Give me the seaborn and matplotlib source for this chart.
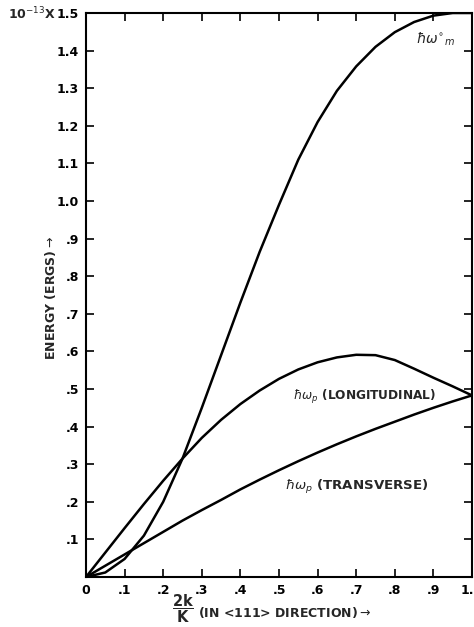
import numpy as np
import pandas as pd
import matplotlib
matplotlib.use("Agg")
import matplotlib.pyplot as plt
import seaborn as sns

# ---- data ----
k_ratio = [0.0, 0.05, 0.1, 0.15, 0.2, 0.25, 0.3, 0.35, 0.4, 0.45, 0.5,
           0.55, 0.6, 0.65, 0.7, 0.75, 0.8, 0.85, 0.9, 0.95, 1.0]
e_max = [0.0, 0.012, 0.048, 0.11, 0.20, 0.315, 0.45, 0.59, 0.73, 0.865, 0.99,
         1.11, 1.21, 1.293, 1.358, 1.41, 1.449, 1.476, 1.493, 1.5, 1.5]
e_long = [0.0, 0.065, 0.13, 0.194, 0.256, 0.315, 0.37, 0.418, 0.46, 0.496, 0.527,
          0.552, 0.571, 0.584, 0.591, 0.59, 0.577, 0.554, 0.53, 0.507, 0.483]
e_trans = [0.0, 0.03, 0.06, 0.09, 0.12, 0.15, 0.178, 0.205, 0.233, 0.259, 0.284,
           0.308, 0.331, 0.353, 0.374, 0.394, 0.413, 0.432, 0.45, 0.467, 0.483]

x_ticks = [0, .1, .2, .3, .4, .5, .6, .7, .8, .9, 1.0]
x_ticklabels = ["0", ".1", ".2", ".3", ".4", ".5", ".6", ".7", ".8", ".9", "1.0"]
y_ticks = [0, .1, .2, .3, .4, .5, .6, .7, .8, .9, 1.0, 1.1, 1.2, 1.3, 1.4, 1.5]
y_ticklabels = ["", ".1", ".2", ".3", ".4", ".5", ".6", ".7", ".8", ".9",
                "1.0", "1.1", "1.2", "1.3", "1.4", "1.5"]

series_names = ["max", "long", "trans"]

df = pd.concat([
    pd.DataFrame({"k": k_ratio, "E": e_max, "curve": "max"}),
    pd.DataFrame({"k": k_ratio, "E": e_long, "curve": "long"}),
    pd.DataFrame({"k": k_ratio, "E": e_trans, "curve": "trans"}),
])

sns.set_style("ticks")
plt.rcParams["font.family"] = ["DejaVu Sans"]
plt.rcParams["mathtext.fontset"] = "dejavusans"

fig = plt.figure(figsize=(4.74, 6.27), dpi=100)
ax = fig.add_axes([86 / 474, 1 - 577 / 627, (472 - 86) / 474, (577 - 13) / 627])

sns.lineplot(data=df, x="k", y="E", hue="curve", hue_order=series_names,
             palette=["black"] * 3, linewidth=1.8, legend=False, ax=ax,
             estimator=None, sort=True)
for ln in ax.get_lines():
    ln.set_solid_joinstyle("round")

ax.set_xlim(0, 1.0)
ax.set_ylim(0, 1.5)
ax.set_xticks(x_ticks)
ax.set_xticklabels(x_ticklabels)
ax.set_yticks(y_ticks)
ax.set_yticklabels(y_ticklabels)
ax.tick_params(direction="in", length=6, width=1.2, top=True, right=True,
               labelsize=9, pad=5, colors="black")
for lab in ax.get_xticklabels() + ax.get_yticklabels():
    lab.set_fontweight("bold")
for s in ax.spines.values():
    s.set_linewidth(1.5)
    s.set_color("black")
    s.set_visible(True)

ax.set_xlabel("")
ax.set_ylabel("")

# axis labels
fig.text(50 / 474, 1 - 298 / 627, "ENERGY (ERGS)$\\rightarrow$", rotation=90,
         ha="center", va="center", fontsize=9, fontweight="bold")
fig.text(183 / 474, 1 - 609 / 627, r"$\mathbf{\dfrac{2k}{K}}$",
         ha="center", va="center", fontsize=10.5, fontweight="bold")
fig.text(198 / 474, 1 - 613 / 627, r"(IN <111> DIRECTION)$\rightarrow$",
         ha="left", va="center", fontsize=9, fontweight="bold")
fig.text(56 / 474, 1 - 14 / 627, r"10$^{-13}$X", ha="right", va="center",
         fontsize=9, fontweight="bold")

# curve labels
ax.text(0.855, 1.43, r"$\hbar\omega^{\circ}{}_{m}$", fontsize=10, ha="left", va="center")
ax.text(0.535, 0.48, r"$\hbar\omega_p$ (LONGITUDINAL)", fontsize=8.7,
        ha="left", va="center", fontweight="bold")
ax.text(0.515, 0.24, r"$\hbar\omega_p$ (TRANSVERSE)", fontsize=9.6,
        ha="left", va="center", fontweight="bold")

fig.savefig("out.png", dpi=100, facecolor="white")
